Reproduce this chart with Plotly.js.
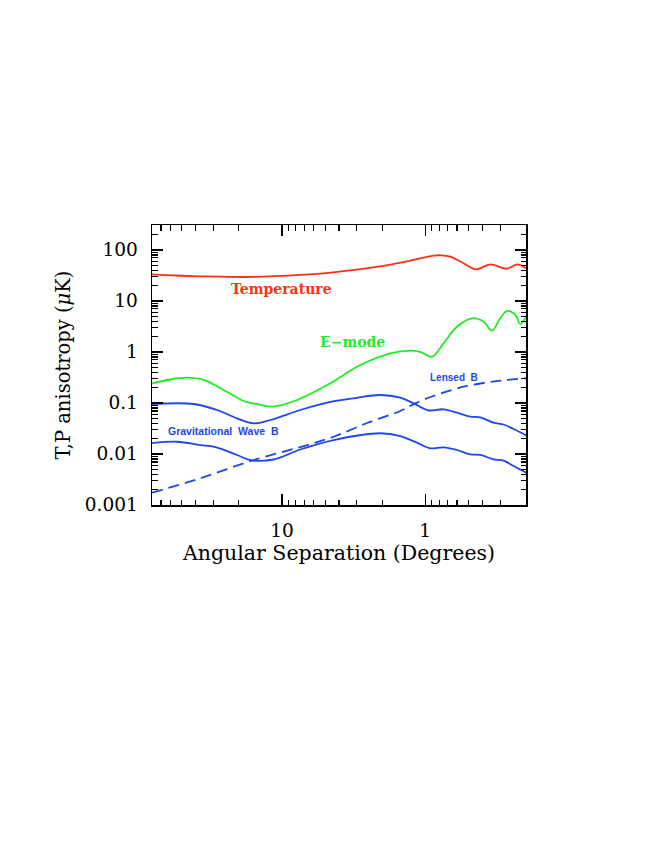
<!DOCTYPE html>
<html>
<head>
<meta charset="utf-8">
<script src="https://cdn.plot.ly/plotly-3.0.1.min.js"></script>
<style>
  html, body { margin: 0; padding: 0; background: #ffffff; }
  #chart { width: 654px; height: 846px; }
</style>
</head>
<body>
<div id="chart"></div>
<script>
// Angular separation (degrees) and amplitudes (muK)
const thetaT = [80.8, 55.5, 37.2, 15.9, 7.45, 4.39, 1.96, 1.494, 0.875, 0.773, 0.669, 0.540, 0.441, 0.352, 0.269, 0.227, 0.198];
const temperature = [33.4, 31.6, 30.5, 29.6, 32.4, 36.5, 48.6, 56.4, 77.3, 78.7, 73.9, 54.8, 41.8, 52.4, 43.0, 52.4, 43.8];

const thetaE = [80.8, 60.2, 46.0, 35.2, 25.6, 18.0, 14.9, 11.7, 7.86, 4.60, 3.62, 2.84, 1.755, 1.273, 1.084, 0.898, 0.745, 0.601, 0.472, 0.392, 0.342, 0.300, 0.267, 0.235, 0.217, 0.197];
const eMode = [0.243, 0.289, 0.313, 0.283, 0.180, 0.106, 0.0956, 0.0846, 0.1145, 0.243, 0.371, 0.556, 0.943, 1.06, 1.0, 0.809, 1.48, 3.13, 4.58, 3.93, 2.62, 4.58, 6.37, 5.32, 3.54, 5.08];

const thetaGW1 = [80.8, 41.4, 28.4, 20.6, 15.8, 12.07, 7.45, 4.60, 3.08, 2.06, 1.494, 1.207, 0.953, 0.745, 0.601, 0.485, 0.413, 0.334, 0.284, 0.242, 0.197];
const gwB1 = [0.0956, 0.0956, 0.0729, 0.0501, 0.040, 0.0464, 0.0729, 0.1047, 0.125, 0.1435, 0.127, 0.0986, 0.0719, 0.0752, 0.0645, 0.0539, 0.0524, 0.0411, 0.0379, 0.0309, 0.0231];

const thetaGW2 = [80.8, 54.0, 37.2, 28.4, 20.6, 16.6, 11.45, 7.45, 4.36, 2.06, 1.494, 1.143, 0.923, 0.745, 0.601, 0.485, 0.413, 0.334, 0.284, 0.242, 0.197];
const gwB2 = [0.0164, 0.0174, 0.0150, 0.0134, 0.00956, 0.0076, 0.0078, 0.01225, 0.0188, 0.0255, 0.0225, 0.01666, 0.01294, 0.01353, 0.01198, 0.00986, 0.00956, 0.00787, 0.00739, 0.00582, 0.0043];

const thetaL = [80.8, 37.2, 15.8, 7.45, 4.36, 2.55, 1.494, 1.174, 0.875, 0.512, 0.300, 0.197];
const lensedB = [0.00174, 0.00334, 0.0076, 0.0137, 0.0218, 0.0405, 0.0697, 0.0986, 0.137, 0.2155, 0.2737, 0.305];

const xTickVals = [10, 1];
const xTickText = ['10', '1'];
const yTickVals = [0.001, 0.01, 0.1, 1, 10, 100];
const yTickText = ['0.001', '0.01', '0.1', '1', '10', '100'];

const RED = '#ff3014', GREEN = '#1fee1f', BLUE = '#1f45f0';
const serif = 'DejaVu Serif, serif';

function line(x, y, color, dash) {
  return { x: x, y: y, type: 'scatter', mode: 'lines',
    line: { color: color, width: 1.8, shape: 'spline', smoothing: 1, dash: dash || 'solid' },
    hoverinfo: 'skip', showlegend: false };
}

const data = [
  line(thetaT, temperature, RED),
  line(thetaE, eMode, GREEN),
  line(thetaGW1, gwB1, BLUE),
  line(thetaGW2, gwB2, BLUE),
  line(thetaL, lensedB, BLUE, '11px,6px')
];

const axisCommon = {
  type: 'log', showgrid: false, zeroline: false,
  showline: true, linecolor: '#000', linewidth: 1.5, mirror: 'allticks',
  ticks: 'inside', ticklen: 11, tickwidth: 1.4, tickcolor: '#000',
  tickmode: 'array',
  tickfont: { family: serif, size: 18.5, color: '#000' },
  minor: { dtick: 'D1', ticks: 'inside', ticklen: 5.5, tickwidth: 1.2, tickcolor: '#000', showgrid: false }
};

const layout = {
  width: 654, height: 846,
  paper_bgcolor: '#fff', plot_bgcolor: '#fff',
  margin: { l: 152, r: 128, t: 225, b: 341 },
  xaxis: Object.assign({}, axisCommon, {
    range: [Math.log10(80.8), Math.log10(0.198)],
    tickvals: xTickVals, ticktext: xTickText,
    ticklabelstandoff: 8,
    title: { text: 'Angular Separation (Degrees)', font: { family: serif, size: 20.5, color: '#000' }, standoff: 5 }
  }),
  yaxis: Object.assign({}, axisCommon, {
    range: [-3, 2.49],
    tickvals: yTickVals, ticktext: yTickText,
    ticklabelstandoff: 9,
    title: { text: 'T,P anisotropy (<i>μ</i>K)', font: { family: serif, size: 19.5, color: '#000' }, standoff: 9 }
  }),
  annotations: [
    { x: 1.0014, y: 1.2255, xref: 'x', yref: 'y', text: '<b>Temperature</b>', showarrow: false,
      font: { family: serif, size: 14, color: RED } },
    { x: 0.506, y: 0.1863, xref: 'x', yref: 'y', text: '<b>E−mode</b>', showarrow: false,
      font: { family: serif, size: 14, color: GREEN } },
    { x: -0.2003, y: -0.5, xref: 'x', yref: 'y', text: '<b>Lensed  B</b>', showarrow: false,
      font: { family: 'Liberation Sans, Arial, sans-serif', size: 10, color: BLUE } },
    { x: 1.4075, y: -1.555, xref: 'x', yref: 'y', text: '<b>Gravitational  Wave  B</b>', showarrow: false,
      font: { family: 'Liberation Sans, Arial, sans-serif', size: 10.5, color: BLUE } }
  ]
};

Plotly.newPlot('chart', data, layout, { staticPlot: true, displayModeBar: false });
</script>
</body>
</html>
